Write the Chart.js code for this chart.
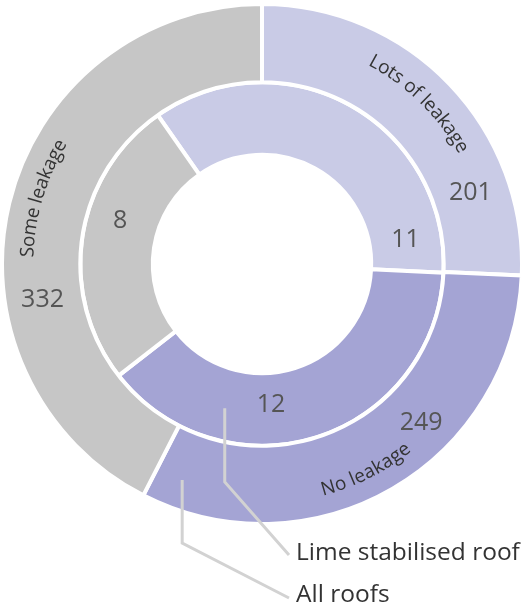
<!DOCTYPE html>
<html>
<head>
<meta charset="utf-8">
<script src="https://cdn.jsdelivr.net/npm/chart.js@4/dist/chart.umd.min.js"></script>
<style>
  html, body { margin: 0; padding: 0; background: #ffffff; }
  #wrap { width: 524px; height: 611px; }
</style>
</head>
<body>
<div id="wrap"><canvas id="c" width="524" height="611"></canvas></div>
<script>
// Leakage categories, in drawing order (clockwise)
const categories = ['Lots of leakage', 'No leakage', 'Some leakage'];
// Number of roofs in each category
const allRoofs = [201, 249, 332];
const limeRoofs = [11, 12, 8];
// Ring names (outer ring first)
const ringNames = ['All roofs', 'Lime stabilised roof'];

const colours = ['#c9cbe6', '#a4a4d4', '#c6c6c6'];
const FONT = '"Open Sans", "Noto Sans", sans-serif';
const TEXT = '#555555';

// Where each value label sits inside its arc: fraction along the arc, fraction across the ring
const valuePlacement = [
  [[0.77, 0.49], [0.37, 0.55], [0.35, 0.52]],
  [[0.905, 0.50], [0.60, 0.44], [0.59, 0.54]]
];
// Category names are set along the outer ring
const namePlacement = [[0.48, 0.63], [0.53, 0.67], [0.52, 0.67]];
// Leader lines for the ring names: anchor arc, along/across fractions, elbow y, label point
const leaderPlacement = [
  { idx: 1, along: 0.94, across: 0.62, elbowY: 543, endX: 289, endY: 598, textX: 296, textY: 602 },
  { idx: 1, along: 0.73, across: 0.55, elbowY: 482, endX: 289, endY: 555, textX: 296, textY: 560 }
];

function arcPoint(arc, along, across) {
  const p = arc.getProps(['x', 'y', 'startAngle', 'endAngle', 'innerRadius', 'outerRadius'], true);
  const a = p.startAngle + (p.endAngle - p.startAngle) * along;
  const r = p.innerRadius + (p.outerRadius - p.innerRadius) * across;
  return { x: p.x + r * Math.cos(a), y: p.y + r * Math.sin(a), a, r, cx: p.x, cy: p.y };
}

// Text set along a circle, centred on canvas angle `a`
function drawCurved(ctx, text, cx, cy, r, a) {
  ctx.save();
  ctx.textAlign = 'center';
  ctx.textBaseline = 'middle';
  const compass = ((a * 180 / Math.PI) + 90 + 360) % 360;
  const inward = compass > 90 && compass < 270;
  const widths = [...text].map(ch => ctx.measureText(ch).width);
  const total = widths.reduce((s, w) => s + w, 0);
  let offset = 0;
  [...text].forEach((ch, i) => {
    const mid = (offset + widths[i] / 2 - total / 2) / r;
    const phi = inward ? a - mid : a + mid;
    ctx.save();
    ctx.translate(cx + r * Math.cos(phi), cy + r * Math.sin(phi));
    ctx.rotate(inward ? phi - Math.PI / 2 : phi + Math.PI / 2);
    ctx.fillText(ch, 0, 0);
    ctx.restore();
    offset += widths[i];
  });
  ctx.restore();
}

const annotate = {
  id: 'annotate',
  afterDatasetsDraw(chart) {
    const ctx = chart.ctx;
    // leader lines and ring names
    leaderPlacement.forEach((lp, ds) => {
      const arc = chart.getDatasetMeta(ds).data[lp.idx];
      const p = arcPoint(arc, lp.along, lp.across);
      ctx.save();
      ctx.strokeStyle = '#d2d2d2';
      ctx.lineWidth = 3;
      ctx.lineJoin = 'miter';
      ctx.beginPath();
      ctx.moveTo(p.x, p.y);
      ctx.lineTo(p.x, lp.elbowY);
      ctx.lineTo(lp.endX, lp.endY);
      ctx.stroke();
      ctx.fillStyle = '#333333';
      ctx.font = '24.5px ' + FONT;
      ctx.textAlign = 'left';
      ctx.textBaseline = 'alphabetic';
      ctx.fillText(chart.data.datasets[ds].label, lp.textX, lp.textY);
      ctx.restore();
    });
    // values
    chart.data.datasets.forEach((d, ds) => {
      const meta = chart.getDatasetMeta(ds);
      meta.data.forEach((arc, i) => {
        const [along, across] = valuePlacement[ds][i];
        const p = arcPoint(arc, along, across);
        ctx.save();
        ctx.fillStyle = TEXT;
        ctx.font = '25px ' + FONT;
        ctx.textAlign = 'center';
        ctx.textBaseline = 'middle';
        ctx.fillText(String(d.data[i]), p.x, p.y);
        ctx.restore();
      });
    });
    // category names along the outer ring
    const outer = chart.getDatasetMeta(0);
    outer.data.forEach((arc, i) => {
      const [along, across] = namePlacement[i];
      const p = arcPoint(arc, along, across);
      ctx.save();
      ctx.fillStyle = '#333333';
      ctx.font = '19px ' + FONT;
      drawCurved(ctx, chart.data.labels[i], p.cx, p.cy, p.r, p.a);
      ctx.restore();
    });
  }
};

new Chart(document.getElementById('c'), {
  type: 'doughnut',
  data: {
    labels: categories,
    datasets: [
      { label: ringNames[0], data: allRoofs, backgroundColor: colours, borderColor: '#ffffff',
        borderWidth: 4, weight: 1.08, rotation: 0 },
      { label: ringNames[1], data: limeRoofs, backgroundColor: colours, borderColor: '#ffffff',
        borderWidth: 4, weight: 1, rotation: -35 }
    ]
  },
  options: {
    responsive: false,
    animation: false,
    cutout: '42%',
    layout: { padding: { top: 2, bottom: 85, left: 0, right: 0 } },
    plugins: { legend: { display: false }, tooltip: { enabled: false } },
    events: []
  },
  plugins: [annotate]
});
</script>
</body>
</html>
